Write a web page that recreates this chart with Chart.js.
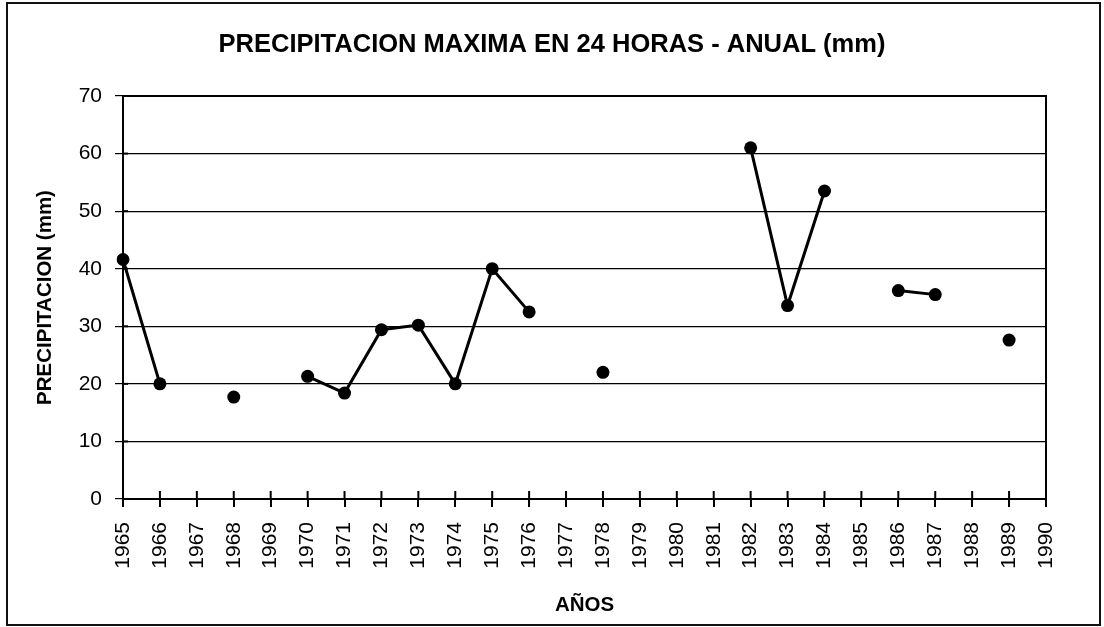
<!DOCTYPE html>
<html>
<head>
<meta charset="utf-8">
<script src="https://cdn.jsdelivr.net/npm/chart.js@4/dist/chart.umd.min.js"></script>
<style>
  html, body { margin: 0; padding: 0; background: #fff; }
  #wrap { width: 1104px; height: 627px; }
</style>
</head>
<body>
<div id="wrap"><canvas id="chart" width="1104" height="627"></canvas></div>
<script>
const years = ['1965','1966','1967','1968','1969','1970','1971','1972','1973','1974','1975','1976','1977',
  '1978','1979','1980','1981','1982','1983','1984','1985','1986','1987','1988','1989','1990'];
const precip = [41.6, 20.0, null, 17.7, null, 21.3, 18.4, 29.4, 30.2, 20.0, 40.0, 32.5, null,
  22.0, null, null, null, 61.0, 33.6, 53.5, null, 36.2, 35.5, null, 27.6, null];
const yTicks = [0, 10, 20, 30, 40, 50, 60, 70];

const frame = {
  id: 'frame',
  beforeDraw(chart) {
    const ctx = chart.ctx;
    ctx.save();
    ctx.fillStyle = '#fff';
    ctx.fillRect(0, 0, chart.width, chart.height);
    ctx.strokeStyle = '#111';
    ctx.lineWidth = 2;
    ctx.strokeRect(7, 3, 1093, 622);
    ctx.restore();
  },
  afterDatasetsDraw(chart) {
    const ctx = chart.ctx;
    const a = chart.chartArea;
    const x = chart.scales.x;
    const y = chart.scales.y;
    ctx.save();
    ctx.strokeStyle = '#000';
    ctx.lineWidth = 2;
    ctx.strokeRect(a.left, a.top, a.right - a.left, a.bottom - a.top);
    // tick marks crossing the axes
    x.ticks.forEach((t, i) => {
      const px = x.getPixelForTick(i);
      ctx.beginPath();
      ctx.moveTo(px, a.bottom - 8);
      ctx.lineTo(px, a.bottom);
      ctx.stroke();
    });
    y.ticks.forEach((t, i) => {
      const py = y.getPixelForTick(i);
      ctx.beginPath();
      ctx.moveTo(a.left, py);
      ctx.lineTo(a.left + 5, py);
      ctx.stroke();
    });
    ctx.restore();
  }
};

new Chart(document.getElementById('chart'), {
  type: 'line',
  data: {
    labels: years,
    datasets: [{
      label: 'Precipitación',
      data: precip,
      spanGaps: false,
      borderColor: '#000',
      borderWidth: 3,
      pointRadius: 6.5,
      pointBackgroundColor: '#000',
      pointBorderColor: '#000',
      pointBorderWidth: 0,
      tension: 0
    }]
  },
  options: {
    responsive: false,
    animation: false,
    layout: { padding: 0 },
    plugins: {
      legend: { display: false },
      tooltip: { enabled: false },
      title: {
        display: true,
        text: 'PRECIPITACION MAXIMA EN 24 HORAS - ANUAL (mm)',
        color: '#000',
        font: { family: 'Liberation Sans', size: 25.5, weight: 'bold', lineHeight: 1.2 },
        padding: { top: 30, bottom: 35.4 }
      }
    },
    scales: {
      x: {
        offset: false,
        afterFit(s) { s.height = 128; },
        border: { display: true, color: '#000', width: 2 },
        grid: { drawOnChartArea: false, drawTicks: true, tickLength: 8, color: '#000', lineWidth: 2 },
        ticks: {
          autoSkip: false, maxRotation: 90, minRotation: 90, padding: 15, color: '#000',
          font: { family: 'Liberation Sans', size: 21 }
        },
        title: {
          display: true, text: 'AÑOS', color: '#000',
          font: { family: 'Liberation Sans', size: 20.5, weight: 'bold', lineHeight: 1.2 },
          padding: { top: 0, bottom: 9 }
        }
      },
      y: {
        min: 0, max: 70,
        afterFit(s) { s.width = 123; },
        afterBuildTicks(s) { s.ticks = yTicks.map(v => ({ value: v })); },
        border: { display: true, color: '#000', width: 2 },
        grid: { color: '#000', lineWidth: 1.2, tickLength: 8 },
        ticks: {
          padding: 13, color: '#000',
          font: { family: 'Liberation Sans', size: 21 }
        },
        title: {
          display: true, text: 'PRECIPITACION (mm)', color: '#000',
          font: { family: 'Liberation Sans', size: 20.5, weight: 'bold', lineHeight: 1.2 },
          padding: { top: 33, bottom: 0 }
        }
      },
      yRight: {
        position: 'right',
        min: 0, max: 70,
        afterFit(s) { s.width = 58; },
        border: { display: false },
        grid: { display: false },
        ticks: { display: false }
      }
    }
  },
  plugins: [frame]
});
</script>
</body>
</html>
